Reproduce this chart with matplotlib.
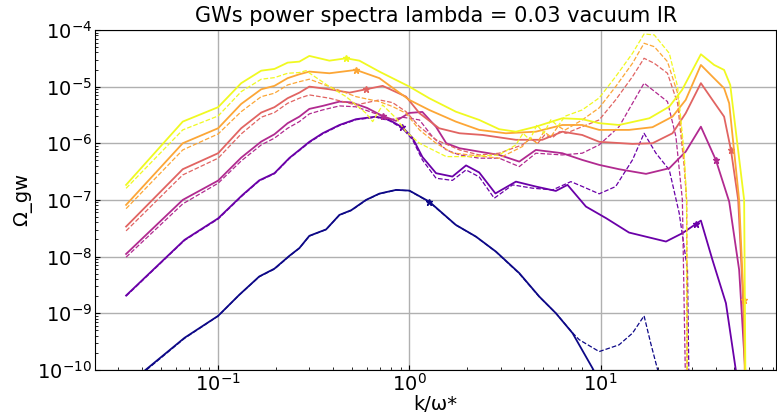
import numpy as np
import matplotlib.pyplot as plt
from matplotlib.ticker import NullFormatter

# navy (plasma 0.0)
k_nav = [0.033, 0.0667, 0.1, 0.129, 0.164, 0.197, 0.236, 0.266, 0.3, 0.367, 0.431, 0.497, 0.594, 0.697, 0.852, 1.0,
         1.27, 1.75, 2.23, 2.84, 3.76, 4.78, 5.84, 7.14, 9.08, 11.1]
om_nav = [5.2e-11, 3.67e-10, 8.97e-10, 2.11e-9, 4.44e-9, 6.11e-9, 1.03e-8, 1.41e-8, 2.32e-8, 3.01e-8, 5.43e-8, 6.58e-8,
          1.0e-7, 1.29e-7, 1.50e-7, 1.46e-7, 9.33e-8, 3.62e-8, 2.25e-8, 1.22e-8, 5.09e-9, 1.97e-9, 1.0e-9, 4.44e-10,
          1.07e-10, 3e-11]
k_nav_d = [0.033, 0.0667, 0.1, 0.129, 0.164, 0.197, 0.236, 0.266, 0.3, 0.367, 0.431, 0.497, 0.594, 0.697, 0.852, 1.0,
           1.27, 1.75, 2.23, 2.84, 3.76, 4.78, 5.84, 7.14, 7.74, 9.84, 12.5, 14.7, 16.9, 18.3, 19.9, 21.5]
om_nav_d = [5.0e-11, 3.6e-10, 8.9e-10, 2.1e-9, 4.4e-9, 6.0e-9, 1.02e-8, 1.4e-8, 2.3e-8, 3.0e-8, 5.4e-8, 6.5e-8,
            9.9e-8, 1.28e-7, 1.49e-7, 1.45e-7, 9.2e-8, 3.6e-8, 2.24e-8, 1.21e-8, 5.0e-9, 1.95e-9, 1.0e-9, 4.5e-10,
            3.4e-10, 2.1e-10, 2.76e-10, 4.44e-10, 8.97e-10, 2.96e-10, 1e-10, 3e-11]

# purple (plasma 0.2)
k_pur = [0.033, 0.0667, 0.1, 0.134, 0.164, 0.197, 0.236, 0.266, 0.3, 0.352, 0.431, 0.526, 0.67, 0.786, 0.922, 1.04,
         1.17, 1.38, 1.68, 1.98, 2.32, 2.82, 3.61, 4.59, 5.84, 6.72, 8.39, 10.7, 14.1, 22.0, 26.8, 33.5, 38.5, 45.3,
         51.0, 52.5]
om_pur = [2.05e-9, 1.97e-8, 4.72e-8, 1.22e-7, 2.21e-7, 2.96e-7, 5.51e-7, 7.62e-7, 1.06e-6, 1.50e-6, 2.10e-6, 2.66e-6,
          2.95e-6, 2.58e-6, 1.90e-6, 1.24e-6, 5.74e-7, 2.96e-7, 2.58e-7, 4.06e-7, 3.05e-7, 1.30e-7, 2.10e-7, 1.72e-7,
          1.44e-7, 1.84e-7, 7.62e-8, 4.75e-8, 2.65e-8, 1.84e-8, 2.58e-8, 4.31e-8, 8.73e-9, 1.50e-9, 1e-10, 1e-12]
k_pur_d = [0.033, 0.0667, 0.1, 0.134, 0.164, 0.197, 0.236, 0.266, 0.3, 0.352, 0.431, 0.526, 0.67, 0.786, 0.922, 1.04,
           1.17, 1.38, 1.68, 1.98, 2.32, 2.78, 3.47, 4.41, 5.61, 7.0, 8.05, 9.84, 12.0, 14.7, 16.9, 19.5, 22.9, 25.8,
           28.5, 29.5]
om_pur_d = [2.0e-9, 1.93e-8, 4.6e-8, 1.19e-7, 2.16e-7, 2.9e-7, 5.4e-7, 7.45e-7, 1.03e-6, 1.46e-6, 2.05e-6, 2.6e-6,
            2.88e-6, 2.5e-6, 1.82e-6, 1.15e-6, 5.08e-7, 2.41e-7, 2.21e-7, 3.38e-7, 2.55e-7, 1.07e-7, 1.84e-7, 1.61e-7,
            1.50e-7, 2.10e-7, 1.72e-7, 1.28e-7, 1.72e-7, 5.08e-7, 1.50e-6, 6.67e-7, 3.38e-7, 5.82e-8, 5.82e-9, 1e-12]

# magenta (plasma 0.4)
k_mag = [0.033, 0.0653, 0.1, 0.132, 0.168, 0.197, 0.231, 0.266, 0.3, 0.352, 0.431, 0.497, 0.6, 0.725, 0.852, 1.0,
         1.17, 1.38, 1.56, 1.83, 2.32, 2.95, 3.76, 4.59, 6.31, 8.02, 9.84, 12.5, 17.3, 22.9, 27.9, 33.5, 40.1, 47.1,
         53.1, 57.1, 58.0]
om_mag = [1.11e-8, 1.0e-7, 2.19e-7, 5.57e-7, 1.07e-6, 1.44e-6, 2.26e-6, 2.95e-6, 4.04e-6, 4.56e-6, 5.43e-6, 5.26e-6,
          4.21e-6, 3.03e-6, 2.48e-6, 3.43e-6, 3.57e-6, 1.94e-6, 1.0e-6, 8.16e-7, 7.11e-7, 6.22e-7, 4.74e-7, 7.62e-7,
          6.67e-7, 5.08e-7, 4.15e-7, 3.48e-7, 2.88e-7, 3.62e-7, 7.11e-7, 1.96e-6, 5.08e-7, 9.33e-8, 5.82e-9, 1e-10,
          1e-12]
k_mag_d = [0.033, 0.0653, 0.1, 0.132, 0.168, 0.197, 0.231, 0.266, 0.3, 0.352, 0.431, 0.526, 0.697, 0.786, 0.922,
           1.13, 1.32, 1.56, 1.83, 2.32, 2.95, 3.76, 4.59, 6.31, 8.02, 9.84, 12.5, 16.9, 22.4, 24.8, 26.8, 28.4]
om_mag_d = [9.75e-9, 8.5e-8, 1.97e-7, 4.87e-7, 9.35e-7, 1.23e-6, 1.84e-6, 2.41e-6, 3.30e-6, 3.87e-6, 4.56e-6, 4.4e-6,
            3.16e-6, 2.58e-6, 2.88e-6, 2.58e-6, 1.31e-6, 7.62e-7, 6.22e-7, 5.45e-7, 5.45e-7, 3.87e-7, 6.67e-7,
            6.22e-7, 6.67e-7, 9.35e-7, 1.96e-6, 1.15e-5, 5.43e-6, 1.31e-6, 1e-7, 1e-12]

# red (plasma 0.6)
k_red = [0.033, 0.0653, 0.1, 0.132, 0.168, 0.197, 0.231, 0.266, 0.3, 0.382, 0.486, 0.594, 0.725, 0.961, 1.13, 1.43,
         1.83, 2.42, 3.61, 4.96, 6.31, 8.02, 9.84, 14.7, 18.7, 23.8, 27.9, 33.5, 38.5, 44.3, 48.1, 52.5, 55.7, 57.1,
         58.0]
om_red = [3.38e-8, 3.48e-7, 6.67e-7, 1.84e-6, 3.48e-6, 4.33e-6, 6.24e-6, 7.82e-6, 1.0e-5, 8.97e-6, 7.82e-6, 8.97e-6,
          1.03e-5, 6.65e-6, 3.39e-6, 1.84e-6, 1.50e-6, 1.40e-6, 1.15e-6, 1.15e-6, 1.6e-6, 1.40e-6, 1.06e-6, 9.74e-7,
          1.0e-6, 1.50e-6, 3.39e-6, 1.15e-5, 5.82e-6, 2.95e-6, 7.62e-7, 1e-7, 1.72e-9, 1e-10, 1e-12]
k_red_d = [0.033, 0.0653, 0.1, 0.132, 0.168, 0.197, 0.231, 0.266, 0.3, 0.382, 0.526, 0.697, 0.818, 0.961, 1.13, 1.38,
           1.83, 2.32, 2.95, 3.90, 4.3, 4.7, 5.1, 5.6, 6.1, 6.6, 8.02, 9.84, 12.0, 14.7, 16.9, 19.1, 22.4, 25.3, 27.4,
           28.2, 28.5]
om_red_d = [2.84e-8, 2.76e-7, 5.45e-7, 1.46e-6, 2.88e-6, 3.48e-6, 5.08e-6, 6.24e-6, 7.13e-6, 6.24e-6, 4.74e-6,
            5.82e-6, 5.21e-6, 3.61e-6, 1.96e-6, 1.15e-6, 7.62e-7, 6.22e-7, 6.67e-7, 9.35e-7, 1.2e-6, 1.0e-6, 1.4e-6,
            1.25e-6, 1.6e-6, 1.5e-6, 1.96e-6, 2.58e-6, 5.82e-6, 1.50e-5, 3.16e-5, 2.58e-5, 1.72e-5, 5.08e-6, 3.87e-7,
            1e-7, 1e-12]

# orange (plasma 0.8)
k_ora = [0.033, 0.0653, 0.1, 0.132, 0.168, 0.197, 0.231, 0.266, 0.3, 0.382, 0.526, 0.697, 1.0, 1.27, 1.75, 2.32,
         3.20, 4.59, 6.31, 8.02, 9.84, 14.1, 18.7, 23.8, 27.9, 33.5, 38.5, 44.3, 47.1, 53.1, 56.4, 57.5]
om_ora = [8.16e-8, 1.0e-6, 1.84e-6, 4.94e-6, 8.97e-6, 1.03e-5, 1.41e-5, 1.65e-5, 1.84e-5, 1.72e-5, 1.97e-5, 1.41e-5,
          5.82e-6, 3.87e-6, 2.41e-6, 1.72e-6, 1.50e-6, 1.60e-6, 2.10e-6, 2.10e-6, 1.72e-6, 1.72e-6, 1.92e-6, 2.95e-6,
          5.82e-6, 2.41e-5, 1.50e-5, 9.35e-6, 5.08e-6, 1e-7, 1e-9, 1e-12]
k_ora_d = [0.033, 0.0653, 0.1, 0.132, 0.168, 0.197, 0.231, 0.266, 0.3, 0.382, 0.526, 0.697, 0.818, 0.961, 1.13, 1.38,
           1.68, 2.06, 2.95, 3.90, 4.27, 4.65, 5.06, 5.5, 6.0, 6.5, 8.02, 9.84, 12.0, 14.7, 16.9, 19.1, 22.4, 25.3,
           27.4, 28.2, 28.5]
om_ora_d = [7.0e-8, 7.62e-7, 1.46e-6, 3.61e-6, 6.65e-6, 7.64e-6, 1.07e-5, 1.22e-5, 1.35e-5, 1.0e-5, 6.65e-6, 5.43e-6,
            4.44e-6, 3.39e-6, 1.72e-6, 1.0e-6, 6.75e-7, 6.22e-7, 5.45e-7, 8.73e-7, 1.25e-6, 1.0e-6, 1.6e-6, 1.3e-6,
            2.0e-6, 1.7e-6, 2.58e-6, 4.21e-6, 1.0e-5, 2.58e-5, 5.82e-5, 5.07e-5, 2.76e-5, 7.64e-6, 5.08e-7, 1e-7,
            1e-12]

# yellow (plasma 1.0)
k_yel = [0.033, 0.0653, 0.1, 0.132, 0.168, 0.197, 0.231, 0.266, 0.3, 0.382, 0.467, 0.548, 0.697, 1.0, 1.27, 1.75,
         2.32, 2.95, 3.61, 4.59, 6.31, 8.02, 9.84, 12.5, 18.0, 22.9, 26.7, 33.5, 39.3, 44.3, 47.7, 56.4, 57.8]
om_yel = [1.84e-7, 2.41e-6, 4.33e-6, 1.15e-5, 1.91e-5, 2.05e-5, 2.65e-5, 2.76e-5, 3.48e-5, 2.87e-5, 3.16e-5, 2.87e-5,
          1.84e-5, 1.0e-5, 6.24e-6, 3.61e-6, 2.58e-6, 1.77e-6, 1.60e-6, 1.96e-6, 2.76e-6, 2.66e-6, 2.26e-6, 2.10e-6,
          2.76e-6, 4.43e-6, 8.73e-6, 3.72e-5, 2.41e-5, 1.97e-5, 1.07e-5, 1e-7, 1e-12]
k_yel_d = [0.033, 0.0653, 0.1, 0.132, 0.168, 0.197, 0.231, 0.266, 0.288, 0.382, 0.467, 0.594, 0.643, 0.725, 0.852,
           0.961, 1.13, 1.56, 2.06, 2.95, 3.61, 3.93, 4.27, 4.65, 5.06, 5.5, 5.99, 6.52, 8.02, 9.84, 12.0, 14.7, 16.9,
           19.1, 22.9, 25.3, 27.4, 28.2, 28.5]
om_yel_d = [1.6e-7, 1.72e-6, 3.03e-6, 8.15e-6, 1.35e-5, 1.44e-5, 1.72e-5, 1.77e-5, 1.91e-5, 1.0e-5, 6.65e-6, 3.39e-6,
            2.41e-6, 4.74e-6, 2.77e-6, 1.6e-6, 1.0e-6, 5.81e-7, 5.81e-7, 6.22e-7, 9.35e-7, 1.5e-6, 1.15e-6, 2.1e-6,
            1.5e-6, 2.6e-6, 2.0e-6, 3.0e-6, 3.87e-6, 6.31e-6, 1.50e-5, 3.87e-5, 8.50e-5, 8.17e-5, 3.87e-5, 1.0e-5,
            6.75e-7, 1e-7, 1e-12]

# k positions of the small markers on the solid curves
peak_k = [1.27, 0.92, 0.725, 0.594, 0.526, 0.467]
tail_k = [None, 31.4, 40.1, 48.1, 56.0, None]

x_ticks = [0.1, 1, 10]
y_ticks = [1e-10, 1e-9, 1e-8, 1e-7, 1e-6, 1e-5, 1e-4]

solid = [(k_nav, om_nav), (k_pur, om_pur), (k_mag, om_mag), (k_red, om_red), (k_ora, om_ora), (k_yel, om_yel)]
dashed = [(k_nav_d, om_nav_d), (k_pur_d, om_pur_d), (k_mag_d, om_mag_d), (k_red_d, om_red_d), (k_ora_d, om_ora_d),
          (k_yel_d, om_yel_d)]
colors = plt.cm.plasma(np.linspace(0, 1, 6))

fig, ax = plt.subplots(figsize=(7.77, 4.16), dpi=100)
fig.subplots_adjust(left=0.1223, right=0.999, bottom=0.111, top=0.928)

for i, c in enumerate(colors):
    ks, oms = solid[i]
    kd, omd = dashed[i]
    ax.plot(ks, oms, color=c, lw=1.3)
    ax.plot(kd, omd, color=c, lw=0.9, ls='--')
    for kp in (peak_k[i], tail_k[i]):
        if kp is None:
            continue
        yp = 10 ** np.interp(np.log10(kp), np.log10(ks), np.log10(oms))
        ax.plot(kp, yp, '*', color=c, ms=5)

ax.set_xscale('log')
ax.set_yscale('log')
ax.set_xticks(x_ticks)
ax.set_yticks(y_ticks)
ax.xaxis.set_minor_formatter(NullFormatter())
ax.yaxis.set_minor_formatter(NullFormatter())
ax.set_xlim(0.0227, 83)
ax.set_ylim(1e-10, 1e-4)
ax.grid(True, which='major', color='#b0b0b0', lw=1)
ax.tick_params(labelsize=14, direction='in', which='both', pad=2)
ax.set_xlabel('k/ω*', fontsize=14, labelpad=0)
ax.set_ylabel('Ω_gw', fontsize=14)
ax.set_title('GWs power spectra lambda = 0.03 vacuum IR', fontsize=15)

fig.savefig('out.png', dpi=100)
